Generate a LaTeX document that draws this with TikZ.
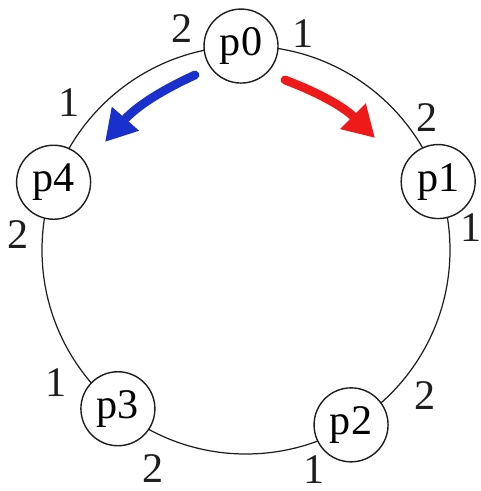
\documentclass[tikz,border=0pt]{standalone}
\usepackage{fontspec}
\setmainfont{Liberation Serif}
\usepackage{xcolor}
\usepackage{tikz}
\usetikzlibrary{arrows.meta}
\definecolor{azul}{HTML}{1A30CC}
\definecolor{rojo}{HTML}{EE1A1A}
\definecolor{negro}{HTML}{1E1E1E}

\begin{document}
\begin{tikzpicture}[font=\fontsize{24}{27}\selectfont,
      proc/.style={circle, draw=negro, fill=white, line width=0.8pt,
                   minimum size=1.48cm, inner sep=0pt},
      puerto/.style={inner sep=0pt, text=negro},
      marca/.style={line width=5pt, line cap=round,
                    -{Triangle[length=0.62cm, width=0.68cm]}}]
    \useasboundingbox (-4.92,-4.82) rectangle (4.68,5.0);
    \coordinate (c) at (0,0);
    \draw[negro, line width=0.7pt] (c) circle (4.08);
    \node[proc] (p0) at (91.4:4.08) {p0};
    \node[proc] (p1) at (19.6:4.08) {p1};
    \node[proc] (p2) at (-59:4.08) {p2};
    \node[proc] (p3) at (-128.9:4.08) {p3};
    \node[proc] (p4) at (160.6:4.08) {p4};
    % puertos
    \node[puerto] (p0a) at (-1.28,4.42) {2};
    \node[puerto] (p0b) at (1.14,4.32) {1};
    \node[puerto] (p1a) at (3.62,2.64) {2};
    \node[puerto] (p1b) at (4.50,0.44) {1};
    \node[puerto] (p2a) at (3.58,-2.92) {2};
    \node[puerto] (p2b) at (1.36,-4.40) {1};
    \node[puerto] (p3a) at (-3.80,-2.66) {1};
    \node[puerto] (p3b) at (-1.86,-4.38) {2};
    \node[puerto] (p4a) at (-3.54,2.94) {1};
    \node[puerto] (p4b) at (-4.56,0.30) {2};
    % sentidos de giro
    \coordinate (az0) at (-1.02,3.5);
    \coordinate (az1) at (-2.82,2.16);
    \coordinate (ro0) at (0.78,3.4);
    \coordinate (ro1) at (2.58,2.24);
    \draw[marca, azul] (az0) to[bend right=12] (az1);
    \draw[marca, rojo] (ro0) to[bend left=12] (ro1);
  \end{tikzpicture}
\end{document}
